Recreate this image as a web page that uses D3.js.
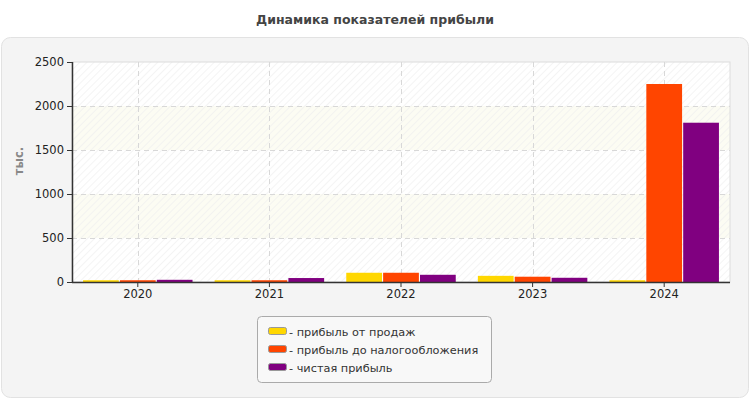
<!DOCTYPE html>
<html><head><meta charset="utf-8">
<script src="https://cdn.jsdelivr.net/npm/d3@7"></script>
<style>body{margin:0;background:#fff;} svg{display:block;font-family:"DejaVu Sans",Verdana,sans-serif;}</style>
</head><body>
<svg id="c" width="750" height="400"></svg>
<script>
const categories = ["2020","2021","2022","2023","2024"];
const seriesNames = ["- прибыль от продаж","- прибыль до налогообложения","- чистая прибыль"];
const seriesColors = ["#ffd700","#ff4500","#800080"];
const salesProfit = [20, 20, 105, 70, 20];
const preTaxProfit = [20, 20, 105, 60, 2250];
const netProfit = [25, 45, 82, 48, 1810];
const yTicks = [0, 500, 1000, 1500, 2000, 2500];
const series = [salesProfit, preTaxProfit, netProfit];
const FONT = "'DejaVu Sans',Verdana,sans-serif";

const svg = d3.select("#c");
const defs = svg.append("defs");
[["hatchA","#ffffff"],["hatchB","#fcfcf3"]].forEach(([id,bg])=>{
  const pat = defs.append("pattern").attr("id",id).attr("patternUnits","userSpaceOnUse")
    .attr("width",5).attr("height",5).attr("patternTransform","rotate(45)");
  pat.append("rect").attr("width",5).attr("height",5).attr("fill",bg);
  pat.append("line").attr("x1",0).attr("y1",0).attr("x2",0).attr("y2",5).attr("stroke","#efefef").attr("stroke-width",1.3);
});

// panel
svg.append("rect").attr("x",1.5).attr("y",37.5).attr("width",747).attr("height",360).attr("rx",9)
  .attr("fill","#f4f4f4").attr("stroke","#e2e2e2");

svg.append("text").attr("x",375).attr("y",24).attr("text-anchor","middle").attr("font-family",FONT)
  .attr("font-size",12.5).attr("font-weight","bold").attr("fill","#444").text("Динамика показателей прибыли");

const m = {l:72, r:730, t:62, b:282};
const x = d3.scaleBand().domain(categories).range([m.l, m.r]).paddingInner(0).paddingOuter(0);
const y = d3.scaleLinear().domain([0,2500]).range([m.b, m.t]);

// bands
const g = svg.append("g");
for (let i=0;i<yTicks.length-1;i++){
  g.append("rect").attr("x",m.l).attr("width",m.r-m.l)
    .attr("y",y(yTicks[i+1])).attr("height",y(yTicks[i])-y(yTicks[i+1]))
    .attr("fill", i%2===0 ? "url(#hatchA)" : "url(#hatchB)");
}
g.append("rect").attr("x",m.l).attr("y",m.t).attr("width",m.r-m.l).attr("height",m.b-m.t)
  .attr("fill","none").attr("stroke","#dcdcdc");

// grid
g.selectAll(".hg").data(yTicks.slice(1,-1)).enter().append("line")
  .attr("x1",m.l).attr("x2",m.r).attr("y1",d=>y(d)+0.5).attr("y2",d=>y(d)+0.5)
  .attr("stroke","#d8d8d8").attr("stroke-dasharray","5,4");
g.selectAll(".vg").data(categories).enter().append("line")
  .attr("x1",d=>Math.round(x(d)+x.bandwidth()/2)+0.5).attr("x2",d=>Math.round(x(d)+x.bandwidth()/2)+0.5)
  .attr("y1",m.t).attr("y2",m.b).attr("stroke","#d8d8d8").attr("stroke-dasharray","5,4");

// bars
const inner = d3.scaleBand().domain([0,1,2]).range([0, x.bandwidth()]).paddingOuter(0.3).paddingInner(0.03);
categories.forEach((c,ci)=>{
  series.forEach((s,si)=>{
    svg.append("rect").attr("x",x(c)+inner(si)).attr("width",inner.bandwidth())
      .attr("y",y(s[ci])).attr("height",y(0)-y(s[ci])).attr("fill",seriesColors[si]);
  });
});

// axes
const ya = svg.append("g").attr("transform",`translate(${m.l},0)`)
  .call(d3.axisLeft(y).tickValues(yTicks).tickFormat(d3.format("d")).tickSize(5).tickPadding(3));
const xa = svg.append("g").attr("transform",`translate(0,${m.b})`)
  .call(d3.axisBottom(x).tickSize(5).tickPadding(3));
[ya,xa].forEach(a=>{
  a.selectAll("text").attr("font-size",11.5).attr("fill","#222").attr("font-family",FONT);
  a.selectAll("line").attr("stroke","#333");
  a.select(".domain").attr("stroke","#333").attr("stroke-width",1.5);
});
xa.select(".domain").attr("d",`M${m.l},0.5H${m.r}`);
ya.select(".domain").attr("d",`M0.5,${m.t}V${m.b}`);

svg.append("text").attr("transform","translate(23,161) rotate(-90)").attr("text-anchor","middle").attr("font-family",FONT)
  .attr("font-size",11.5).attr("font-weight","bold").attr("fill","#888").text("тыс.");

// legend
const lg = svg.append("g");
lg.append("rect").attr("x",257.5).attr("y",316.5).attr("width",234).attr("height",66).attr("rx",4)
  .attr("fill","#f8f8f8").attr("stroke","#aaa");
seriesNames.forEach((n,i)=>{
  const yy = 331 + i*18;
  lg.append("rect").attr("x",268.5).attr("y",yy-3.5).attr("width",18).attr("height",7).attr("rx",2)
    .attr("fill",seriesColors[i]).attr("stroke","#999");
  lg.append("text").attr("x",289).attr("y",yy+4.5).attr("font-family",FONT).attr("font-size",11.3).attr("fill","#333").text(n);
});
</script>
</body></html>
